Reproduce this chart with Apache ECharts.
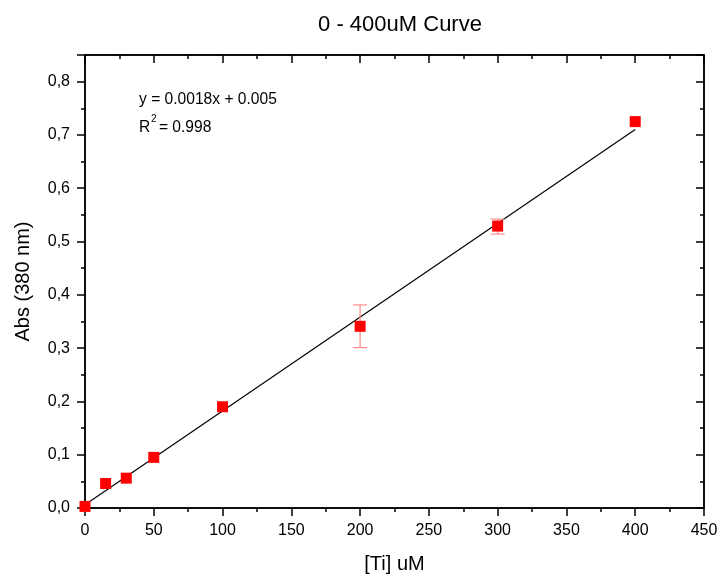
<!DOCTYPE html>
<html>
<head>
<meta charset="utf-8">
<script src="https://cdn.jsdelivr.net/npm/echarts@6/dist/echarts.min.js"></script>
<style>html,body{margin:0;padding:0;background:#fff}#chart{width:721px;height:579px}</style>
</head>
<body>
<div id="chart"></div>
<script>
var concentrations = [0, 15, 30, 50, 100, 200, 300, 400];
var absorbance = [0.003, 0.046, 0.056, 0.095, 0.190, 0.341, 0.529, 0.725];
var errLow = [null, null, null, null, null, 0.301, 0.514, null];
var errHigh = [null, null, null, null, null, 0.381, 0.542, null];
var fitLine = [[0, 0.006], [400, 0.710]];

var pts = concentrations.map(function (x, i) { return [x, absorbance[i]]; });
var errs = [];
concentrations.forEach(function (x, i) {
    if (errLow[i] != null) errs.push([x, errLow[i], errHigh[i]]);
});

var font = '"Liberation Sans", Arial, sans-serif';
var fmt = function (v) { return v.toFixed(1).replace('.', ','); };

function line() { return {show: true, onZero: false, lineStyle: {color: '#000', width: 1.5}}; }
function tick(inside) { return {show: true, inside: inside, length: 8, lineStyle: {color: '#000', width: 1.5}}; }
function minor() { return {show: true, splitNumber: 2, length: 4, lineStyle: {color: '#000', width: 1.5}}; }

var chart = echarts.init(document.getElementById('chart'), null, {renderer: 'canvas'});
var option = {
    animation: false,
    title: {
        text: '0 - 400uM Curve', left: 395, top: 9, textAlign: 'center',
        textStyle: {fontFamily: font, fontSize: 22, fontWeight: 'normal', color: '#000'}
    },
    grid: {left: 85, right: 17, top: 55, bottom: 69, show: true, borderColor: '#000', borderWidth: 1.5,
        backgroundColor: 'transparent'},
    xAxis: [{
        type: 'value', min: 0, max: 450, interval: 50,
        name: '[Ti] uM', nameLocation: 'middle', nameGap: 46,
        nameTextStyle: {fontFamily: font, fontSize: 20, color: '#000'},
        axisLine: line(), axisTick: tick(false), minorTick: minor(),
        axisLabel: {fontFamily: font, fontSize: 16, color: '#000', margin: 15},
        splitLine: {show: false}
    }, {
        type: 'value', position: 'top', min: 0, max: 450, interval: 50,
        axisLine: line(), axisTick: tick(true), minorTick: minor(),
        axisLabel: {show: false},
        splitLine: {show: false}
    }],
    yAxis: [{
        type: 'value', min: 0, max: 0.85, interval: 0.1,
        name: 'Abs (380 nm)', nameLocation: 'middle', nameGap: 52,
        nameTextStyle: {fontFamily: font, fontSize: 20, color: '#000'},
        axisLine: line(), axisTick: tick(false), minorTick: minor(),
        axisLabel: {fontFamily: font, fontSize: 16, color: '#000', margin: 15, formatter: fmt,
            showMaxLabel: false},
        splitLine: {show: false}
    }, {
        type: 'value', position: 'right', min: 0, max: 0.85, interval: 0.1,
        axisLine: line(), axisTick: tick(true), minorTick: minor(),
        axisLabel: {show: false},
        splitLine: {show: false}
    }],
    graphic: [{
        type: 'text', left: 139, top: 92,
        style: {text: 'y = 0.0018x + 0.005', font: '15.6px ' + font, fill: '#000'}
    }, {
        type: 'text', left: 139, top: 120,
        style: {text: 'R  = 0.998', font: '15.6px ' + font, fill: '#000'}
    }, {
        type: 'text', left: 151, top: 114,
        style: {text: '2', font: '10px ' + font, fill: '#000'}
    }],
    series: [{
        type: 'line', data: fitLine, symbol: 'none',
        lineStyle: {color: '#000', width: 1.2}, z: 2
    }, {
        type: 'custom', data: errs, z: 3,
        renderItem: function (params, api) {
            var x = api.coord([api.value(0), api.value(1)]);
            var top = api.coord([api.value(0), api.value(2)]);
            var w = 7;
            var st = {stroke: '#ff8a8a', lineWidth: 1.2};
            return {type: 'group', children: [
                {type: 'line', shape: {x1: x[0], y1: x[1], x2: top[0], y2: top[1]}, style: st},
                {type: 'line', shape: {x1: x[0] - w, y1: x[1], x2: x[0] + w, y2: x[1]}, style: st},
                {type: 'line', shape: {x1: top[0] - w, y1: top[1], x2: top[0] + w, y2: top[1]}, style: st}
            ]};
        }
    }, {
        type: 'scatter', data: pts, symbol: 'rect', symbolSize: 11,
        itemStyle: {color: '#ff0000', opacity: 1}, z: 4
    }]
};
chart.setOption(option);
</script>
</body>
</html>
